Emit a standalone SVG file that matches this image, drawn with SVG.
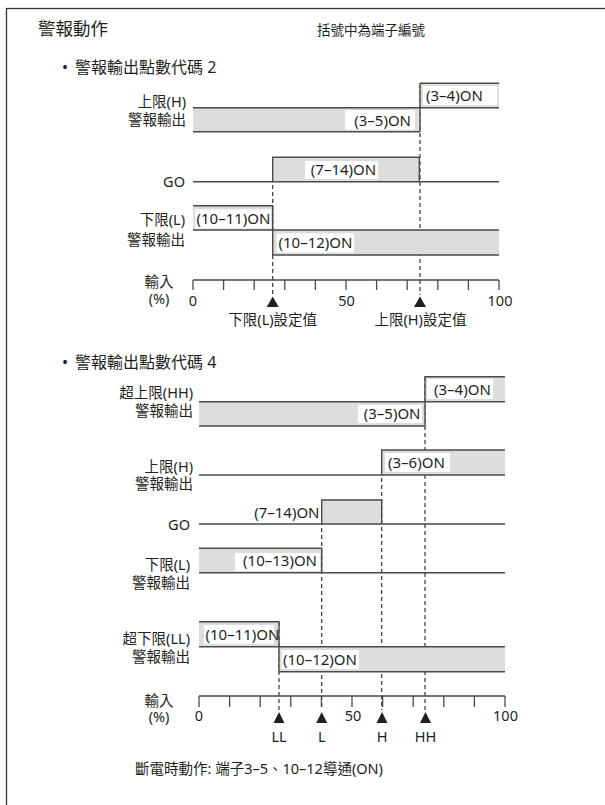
<svg xmlns="http://www.w3.org/2000/svg" width="605" height="805" viewBox="0 0 605 805">
<style>
text{font-family:"Noto Sans","Noto Sans CJK TC",sans-serif;fill:#231f20}
.t{font-size:14.5px}
.on{font-size:15px}
.ttl{font-size:17.5px}
.note{font-size:13.5px}
.sub{font-size:16px}
.e{text-anchor:end}
.m{text-anchor:middle}
.sig{fill:none;stroke:#4a4a4a;stroke-width:1.4}
.g{fill:#dcdddd;stroke:none}
.w{fill:#ffffff;stroke:none}
.dash{fill:none;stroke:#333;stroke-width:1.2;stroke-dasharray:4 3}
.ax{fill:none;stroke:#4a4a4a;stroke-width:1.3}
.tri{fill:#231f20}
</style>
<rect x="6.5" y="8.5" width="610" height="810" fill="#fff" stroke="#333" stroke-width="1.3"/>
<g id="header">
<text class="ttl" x="38" y="34.5">警報動作</text>
<text class="note" x="317" y="35">括號中為端子編號</text>
<text class="sub" x="62" y="72.5"><tspan>•</tspan><tspan x="75">警報輸出點數代碼 2</tspan></text>
<text class="sub" x="62" y="367.5"><tspan>•</tspan><tspan x="75">警報輸出點數代碼 4</tspan></text>
</g>
<g id="connectors">
<line class="dash" x1="272.7" y1="157" x2="272.7" y2="295"/>
<line class="dash" x1="420" y1="84" x2="420" y2="295"/>
<line class="dash" x1="279" y1="622" x2="279" y2="710"/>
<line class="dash" x1="321.7" y1="500" x2="321.7" y2="710"/>
<line class="dash" x1="381.7" y1="450" x2="381.7" y2="710"/>
<line class="dash" x1="425" y1="377" x2="425" y2="710"/>
</g>
<!-- Chart 1 -->
<g id="c1-h">
<rect class="g" x="420" y="83.3" width="79" height="24.4"/>
<rect class="g" x="193" y="107.7" width="227" height="24"/>
<rect class="w" x="423" y="86" width="74" height="19"/>
<rect class="w" x="345" y="110.5" width="70" height="19"/>
<path class="sig" d="M420 83.3H499M420 83.3V131.7M193 107.7H499M193 131.7H420"/>
<text class="on" x="426" y="101">(3–4)ON</text>
<text class="on e" x="411" y="125.5">(3–5)ON</text>
<text class="t e" x="186" y="107">上限(H)</text>
<text class="t e" x="186" y="125.3">警報輸出</text>
</g>
<g id="c1-go">
<rect class="g" x="272.7" y="157.3" width="146.6" height="24.4"/>
<rect class="w" x="305" y="161" width="73" height="18"/>
<path class="sig" d="M272.7 181.7V157.3H419.3V181.7M193 181.7H499"/>
<text class="on m" x="343.5" y="175">(7–14)ON</text>
<text class="t e" x="185" y="187">GO</text>
</g>
<g id="c1-l">
<rect class="g" x="193" y="205.7" width="79.7" height="24.3"/>
<rect class="g" x="272.7" y="230" width="226.3" height="25"/>
<rect class="w" x="195" y="209.5" width="76" height="19"/>
<rect class="w" x="276.7" y="233.5" width="77.5" height="19"/>
<path class="sig" d="M193 205.7H272.7V255M193 230H499M272.7 255H499"/>
<text class="on" x="196.5" y="223.5">(10–11)ON</text>
<text class="on" x="278.5" y="248">(10–12)ON</text>
<text class="t e" x="185" y="225.3">下限(L)</text>
<text class="t e" x="185" y="245.3">警報輸出</text>
</g>
<g id="c1-axis">
<path class="ax" d="M193 280H499M193 280V290M223.6 280V290M254.2 280V290M284.8 280V290M315.4 280V290M346 280V290M376.6 280V290M407.2 280V290M437.8 280V290M468.4 280V290M499 280V290"/>
<polygon class="tri" points="272.7,296.5 266.7,307 278.7,307"/>
<polygon class="tri" points="420,296.5 414,307 426,307"/>
<text class="t m" x="193" y="306">0</text>
<text class="t m" x="346.5" y="306">50</text>
<text class="t m" x="500" y="306">100</text>
<text class="t m" x="159" y="287">輸入</text>
<text class="t m" x="159" y="303.5">(%)</text>
<text class="t m" x="272.7" y="324.5">下限(L)設定值</text>
<text class="t m" x="420.5" y="324.5">上限(H)設定值</text>
</g>
<!-- Chart 2 -->
<g id="c2-hh">
<rect class="g" x="425" y="376.7" width="80" height="25"/>
<rect class="g" x="199" y="401.7" width="226" height="24.3"/>
<rect class="w" x="427" y="379" width="66" height="20"/>
<rect class="w" x="358" y="405" width="64" height="18"/>
<path class="sig" d="M505 376.7H425V426M199 401.7H505M199 426H425"/>
<text class="on" x="434" y="394.7">(3–4)ON</text>
<text class="on e" x="420.5" y="419">(3–5)ON</text>
<text class="t e" x="193" y="398">超上限(HH)</text>
<text class="t e" x="193" y="416">警報輸出</text>
</g>
<g id="c2-h">
<rect class="g" x="381.7" y="450" width="123.3" height="25"/>
<rect class="w" x="385" y="453" width="65" height="19"/>
<path class="sig" d="M505 450H381.7V475M199 475H505"/>
<text class="on" x="388" y="468">(3–6)ON</text>
<text class="t e" x="193" y="472">上限(H)</text>
<text class="t e" x="193" y="489.3">警報輸出</text>
</g>
<g id="c2-go">
<rect class="g" x="321.7" y="500" width="60" height="24"/>
<path class="sig" d="M321.7 524V500H381.7V524M199 524H505"/>
<text class="on e" x="319.5" y="517.5">(7–14)ON</text>
<text class="t e" x="190" y="529.5">GO</text>
</g>
<g id="c2-l">
<rect class="g" x="199" y="548.3" width="122.7" height="24.4"/>
<rect class="w" x="235" y="553" width="85" height="18"/>
<path class="sig" d="M199 548.3H321.7V572.7M199 572.7H505"/>
<text class="on e" x="317" y="566">(10–13)ON</text>
<text class="t e" x="190" y="570.3">下限(L)</text>
<text class="t e" x="190" y="588">警報輸出</text>
</g>
<g id="c2-ll">
<rect class="g" x="199" y="621.7" width="80" height="25"/>
<rect class="g" x="279" y="646.7" width="226" height="25"/>
<rect class="w" x="204" y="625" width="70" height="19"/>
<rect class="w" x="281.7" y="650" width="77.3" height="19"/>
<path class="sig" d="M199 621.7H279V671.7M199 646.7H505M279 671.7H505"/>
<text class="on" x="205.5" y="639.7">(10–11)ON</text>
<text class="on" x="283" y="664.7">(10–12)ON</text>
<text class="t e" x="190" y="643.6">超下限(LL)</text>
<text class="t e" x="190" y="662">警報輸出</text>
</g>
<g id="c2-axis">
<path class="ax" d="M199 696H505M199 696V707M229.6 696V707M260.2 696V707M290.8 696V707M321.4 696V707M352 696V707M382.6 696V707M413.2 696V707M443.8 696V707M474.4 696V707M505 696V707"/>
<polygon class="tri" points="279,712 273.5,723 284.5,723"/>
<polygon class="tri" points="321.7,712 316.2,723 327.2,723"/>
<polygon class="tri" points="382,712 376.5,723 387.5,723"/>
<polygon class="tri" points="425.5,712 420,723 431,723"/>
<text class="t m" x="199" y="721">0</text>
<text class="t m" x="353" y="721">50</text>
<text class="t m" x="505.5" y="721">100</text>
<text class="t m" x="159" y="706">輸入</text>
<text class="t m" x="159" y="722">(%)</text>
<text class="t m" x="279" y="742">LL</text>
<text class="t m" x="321.7" y="742">L</text>
<text class="t m" x="382" y="742">H</text>
<text class="t m" x="425.5" y="742">HH</text>
</g>
<g id="footer">
<text class="t" x="135" y="773.5">斷電時動作: 端子3–5、10–12導通(ON)</text>
</g>
</svg>
